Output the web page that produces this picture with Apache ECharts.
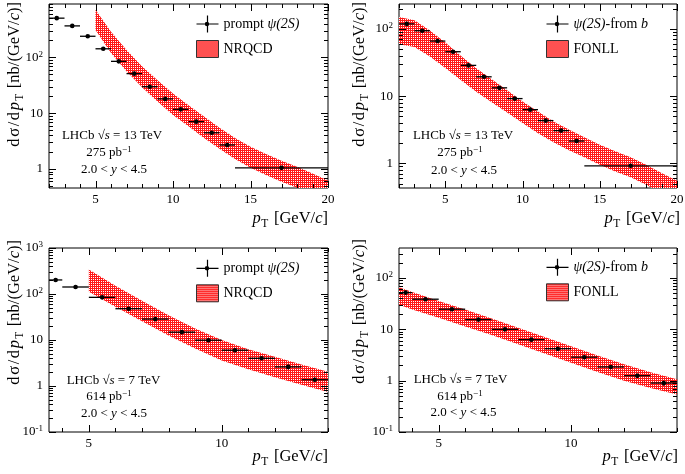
<!DOCTYPE html>
<html><head><meta charset="utf-8">
<script src="https://cdn.jsdelivr.net/npm/echarts@6/dist/echarts.min.js"></script>
<style>html,body{margin:0;padding:0;background:#fff}#c{width:685px;height:474px}</style>
</head><body><div id="c"></div>
<script>
// ---------------- data ----------------
// 13 TeV bins
const bin13Lo  = [2,3,4,5,6,7,8,9,10,11,12,13,14];
const bin13Hi  = [3,4,5,6,7,8,9,10,11,12,13,14,20];
const bin13Mid = [2.5,3.5,4.5,5.5,6.5,7.5,8.5,9.5,10.5,11.5,12.5,13.5,17];
const prompt13    = [502,365,238,142,84.6,51,29.7,18,11.7,7.05,4.45,2.69,1.05];
const prompt13Err = [20,13,8,5,3,1.8,1.1,0.7,0.5,0.35,0.25,0.2,0.08];
const fromB13     = [119,94,66,45.8,28.7,19.4,13.3,9.2,6.3,4.33,3.07,2.15,0.92];
const fromB13Err  = [8,5,3,2,1.2,0.8,0.55,0.4,0.3,0.22,0.17,0.13,0.06];
// NRQCD band 13 TeV
const nrqcd13X  = [5,6,7,8,9,10,11,12,13,14,15,16,17,18,19,20];
const nrqcd13Up = [708,288,135,69,39,22.4,13.8,8.7,5.5,3.6,2.5,1.86,1.41,1.10,0.83,0.62];
const nrqcd13Lo = [309,120,56,29,16.2,9.3,5.8,3.6,2.3,1.51,1.05,0.78,0.59,0.46,0.35,0.26];
// FONLL band 13 TeV
const fonll13X  = [2,3,4,5,6,7,8,9,10,11,12,13,14,15,16,17,18,19,20];
const fonll13Up = [151,135,95,63,40,26,17.8,12.2,8.3,5.9,4.2,3.2,2.45,1.9,1.51,1.23,0.95,0.72,0.55];
const fonll13Lo = [59,54,39,26.3,17.4,11.6,8.1,5.7,4.0,2.8,2.07,1.57,1.23,0.95,0.76,0.62,0.48,0.36,0.275];
// 7 TeV bins
const bin7Lo  = [3.5,4,5,6,7,8,9,10,11,12,13];
const bin7Hi  = [4,5,6,7,8,9,10,11,12,13,14];
const bin7Mid = [3.75,4.5,5.5,6.5,7.5,8.5,9.5,10.5,11.5,12.5,13.5];
const prompt7    = [202,142,84.6,47.9,28.5,14.8,9.9,6.0,4.0,2.6,1.37];
const prompt7Err = [10,6,3.5,2,1.3,0.8,0.6,0.4,0.3,0.3,0.15];
const fromB7     = [52,38.7,24.7,15.5,10.0,6.3,4.2,2.87,1.85,1.25,0.9];
const fromB7Err  = [4,2.5,1.5,0.9,0.6,0.4,0.3,0.2,0.15,0.12,0.1];
// NRQCD band 7 TeV
const nrqcd7X  = [5,6,7,8,9,10,11,12,13,14];
const nrqcd7Up = [339,151,71,34.7,17.8,10,6.3,4.3,2.95,2.04];
const nrqcd7Lo = [112,52.5,25.7,12.6,6.5,3.6,2.3,1.55,1.07,0.74];
// FONLL band 7 TeV
const fonll7X  = [3.5,4,5,6,7,8,9,10,11,12,13,14];
const fonll7Up = [66,53.7,35.9,24.3,16.2,10.7,7.1,4.7,3.1,2.09,1.46,1.07];
const fonll7Lo = [30.2,24.5,16.8,11.4,7.8,5.1,3.4,2.24,1.48,1.0,0.72,0.54];
// tick labels
const xLabels13 = [5,10,15,20];
const xLabels7  = [5,10];

// ---------------- helpers ----------------
const FONT = '"Liberation Serif","DejaVu Serif",serif';
function hatch(){
  const c = document.createElement('canvas'); c.width = 4; c.height = 4;
  const g = c.getContext('2d');
  g.fillStyle = '#ff1818'; g.fillRect(0,0,4,4);
  g.fillStyle = '#ffffff';
  [[1,1],[3,3],[1,3],[3,1]].forEach(q => g.fillRect(q[0], q[1], 1, 1));
  return c;
}
const PATTERN = {image: hatch(), repeat: 'repeat'};
const CROSS = 'path://M0,7.9h22v1.2h-22z M10.4,0h1.2v17h-1.2z M8.3,8.5a2.2,2.2 0 1,1 4.4,0a2.2,2.2 0 1,1 -4.4,0z';

function powLabel(v){
  const l = Math.log10(v), e = Math.round(l);
  if (Math.abs(l - e) > 1e-6) return '';
  if (e === 0) return '1';
  if (e === 1) return '10';
  return '10{s|' + (e < 0 ? '-' : '') + Math.abs(e) + '}';
}

const panels = [
  {grid:{left:49, top:4, width:279, height:184}, xMin:2, xMax:20, xInt:1, xLab:xLabels13, yMin:0.457, yMax:900,
   lo:bin13Lo, hi:bin13Hi, mid:bin13Mid, val:prompt13, err:prompt13Err, ptName:'prompt ψ(2S)',
   bx:nrqcd13X, bu:nrqcd13Up, bl:nrqcd13Lo, bName:'NRQCD'},
  {grid:{left:399, top:4, width:278, height:184}, xMin:2, xMax:20, xInt:1, xLab:xLabels13, yMin:0.43, yMax:235,
   lo:bin13Lo, hi:bin13Hi, mid:bin13Mid, val:fromB13, err:fromB13Err, ptName:'ψ(2S)-from b',
   bx:fonll13X, bu:fonll13Up, bl:fonll13Lo, bName:'FONLL'},
  {grid:{left:49, top:248, width:279, height:184}, xMin:3.5, xMax:14, xInt:0.5, xLab:xLabels7, yMin:0.1, yMax:1000,
   lo:bin7Lo, hi:bin7Hi, mid:bin7Mid, val:prompt7, err:prompt7Err, ptName:'prompt ψ(2S)',
   bx:nrqcd7X, bu:nrqcd7Up, bl:nrqcd7Lo, bName:'NRQCD'},
  {grid:{left:399, top:248, width:278, height:184}, xMin:3.5, xMax:14, xInt:0.5, xLab:xLabels7, yMin:0.1, yMax:385,
   lo:bin7Lo, hi:bin7Hi, mid:bin7Mid, val:fromB7, err:fromB7Err, ptName:'ψ(2S)-from b',
   bx:fonll7X, bu:fonll7Up, bl:fonll7Lo, bName:'FONLL'}
];

function clipPoly(pts, x0, y0, x1, y1){
  const edges = [
    [p => p[0] >= x0, (a, b) => { const t = (x0 - a[0]) / (b[0] - a[0]); return [x0, a[1] + t * (b[1] - a[1])]; }],
    [p => p[0] <= x1, (a, b) => { const t = (x1 - a[0]) / (b[0] - a[0]); return [x1, a[1] + t * (b[1] - a[1])]; }],
    [p => p[1] >= y0, (a, b) => { const t = (y0 - a[1]) / (b[1] - a[1]); return [a[0] + t * (b[0] - a[0]), y0]; }],
    [p => p[1] <= y1, (a, b) => { const t = (y1 - a[1]) / (b[1] - a[1]); return [a[0] + t * (b[0] - a[0]), y1]; }]
  ];
  let out = pts;
  edges.forEach(([inside, inter]) => {
    const inp = out; out = [];
    for (let i = 0; i < inp.length; i++){
      const cur = inp[i], prev = inp[(i + inp.length - 1) % inp.length];
      if (inside(cur)) { if (!inside(prev)) out.push(inter(prev, cur)); out.push(cur); }
      else if (inside(prev)) out.push(inter(prev, cur));
    }
  });
  return out;
}
function bandRender(p){
  return function(params, api){
    const cs = params.coordSys, pts = [];
    p.bx.forEach((x, k) => pts.push(api.coord([x, p.bu[k]])));
    for (let k = p.bx.length - 1; k >= 0; k--) pts.push(api.coord([p.bx[k], p.bl[k]]));
    const cl = clipPoly(pts, cs.x, cs.y, cs.x + cs.width, cs.y + cs.height);
    return {type:'polygon', shape:{points:cl}, style:{fill:PATTERN, stroke:null}};
  };
}
function errRender(params, api){
  const x = api.value(0), y = api.value(1);
  const c = api.coord([x, y]), a = api.coord([api.value(2), y]), b = api.coord([api.value(3), y]);
  const d = api.coord([x, api.value(4)]), e = api.coord([x, api.value(5)]);
  const st = {stroke:'#000', lineWidth:1.3};
  return {type:'group', children:[
    {type:'line', shape:{x1:a[0], y1:c[1], x2:b[0], y2:c[1]}, style:st},
    {type:'line', shape:{x1:c[0], y1:d[1], x2:c[0], y2:e[1]}, style:st},
    {type:'circle', shape:{cx:c[0], cy:c[1], r:2.3}, style:{fill:'#000'}}
  ]};
}
function tickRender(p){
  return function(params, api){
    const cs = params.coordSys, ch = [];
    const L = 7, S = 4;
    const top = cs.y, bot = cs.y + cs.height, left = cs.x, right = cs.x + cs.width;
    const line = (x1,y1,x2,y2) => ch.push({type:'line', shape:{x1,y1,x2,y2}, style:{stroke:'#000', lineWidth:1}});
    for (let v = Math.ceil(p.xMin); v <= p.xMax + 1e-9; v++){
      const px = Math.round(api.coord([v, p.yMin])[0]) + 0.5;
      const len = p.xLab.indexOf(v) >= 0 ? L : S;
      line(px, bot, px, bot - len); line(px, top, px, top + len);
    }
    for (let n = Math.floor(Math.log10(p.yMin)); n <= Math.ceil(Math.log10(p.yMax)); n++){
      for (let k = 1; k <= 9; k++){
        const v = k * Math.pow(10, n);
        if (v < p.yMin || v > p.yMax) continue;
        const py = Math.round(api.coord([p.xMin, v])[1]) + 0.5;
        const len = k === 1 ? L : S;
        line(left, py, left + len, py); line(right, py, right - len, py);
      }
    }
    return {type:'group', children:ch};
  };
}

const grids = [], xAxes = [], yAxes = [], series = [];
panels.forEach((p, i) => {
  grids.push(Object.assign({show:true, borderColor:'#000', borderWidth:1, backgroundColor:'rgba(0,0,0,0)', containLabel:false, outerBoundsMode:'none'}, p.grid));
  xAxes.push({type:'value', gridIndex:i, min:p.xMin, max:p.xMax, interval:p.xInt,
    axisLine:{show:false}, axisTick:{show:false}, splitLine:{show:false},
    axisLabel:{margin:5, color:'#000', fontFamily:FONT, fontSize:13,
      formatter: v => p.xLab.some(t => Math.abs(t - v) < 1e-9) ? String(Math.round(v)) : ''}});
  yAxes.push({type:'log', logBase:10, gridIndex:i, min:p.yMin, max:p.yMax,
    axisLine:{show:false}, axisTick:{show:false}, splitLine:{show:false}, minorTick:{show:false},
    axisLabel:{margin:6, color:'#000', fontFamily:FONT, fontSize:13, formatter: powLabel,
      rich:{s:{fontSize:9, fontFamily:FONT, color:'#000', verticalAlign:'top', padding:[0,0,6,0]}}}});
  series.push({type:'custom', name:p.bName, xAxisIndex:i, yAxisIndex:i, silent:true, z:2,
    itemStyle:{color:'#ff1818'},
    data:[[p.bx[0], p.bl[0]]], encode:{x:0, y:1}, renderItem:bandRender(p)});
  series.push({type:'custom', name:p.ptName, xAxisIndex:i, yAxisIndex:i, silent:true, z:5,
    itemStyle:{color:'#000'},
    data:p.mid.map((m, k) => [m, p.val[k], p.lo[k], p.hi[k], p.val[k] - p.err[k], p.val[k] + p.err[k]]),
    encode:{x:0, y:1}, renderItem:errRender});
  series.push({type:'custom', name:'_ticks' + i, xAxisIndex:i, yAxisIndex:i, silent:true, z:6,
    data:[[p.xMin, p.yMin]], encode:{x:0, y:1}, renderItem:tickRender(p)});
});

const legendFmt = {
  'prompt ψ(2S)':'{n|prompt }{i|ψ(2S)}',
  'ψ(2S)-from b':'{i|ψ(2S)}{n|-from }{i|b}',
  'NRQCD':'{n|NRQCD}', 'FONLL':'{n|FONLL}'
};
const legRich = {n:{fontFamily:FONT, fontSize:14, color:'#000'}, i:{fontFamily:FONT, fontSize:14, fontStyle:'italic', color:'#000'}};
function mkLegend(left, top, p){
  return {left:left, top:top, orient:'vertical', padding:0, itemWidth:22, itemHeight:17, itemGap:7.5,
    selectedMode:false, formatter: n => legendFmt[n],
    textStyle:{fontFamily:FONT, fontSize:14, color:'#000', rich:legRich},
    data:[{name:p.ptName, icon:CROSS, itemStyle:{color:'#000'}},
          {name:p.bName, icon:'rect', itemStyle:{color:PATTERN, borderColor:'#333', borderWidth:1}}]};
}

const tRich = {
  n:{fontFamily:FONT, fontSize:13, fill:'#000'},
  i:{fontFamily:FONT, fontSize:13, fontStyle:'italic', fill:'#000'},
  s:{fontFamily:FONT, fontSize:9, fill:'#000', verticalAlign:'top', padding:[0,0,6,0]}
};
function txt(x, y, t){
  return {type:'text', x:x, y:y, silent:true, style:{text:t, rich:tRich, align:'center', verticalAlign:'middle', textAlign:'center', textVerticalAlign:'middle'}};
}
const aRich = {
  n:{fontFamily:FONT, fontSize:16.5, fill:'#000'},
  w:{fontFamily:FONT, fontSize:16.5, fill:'#000', padding:[0,0.8,0,0.8]},
  i:{fontFamily:FONT, fontSize:16.5, fontStyle:'italic', fill:'#000'},
  iw:{fontFamily:FONT, fontSize:16.5, fontStyle:'italic', fill:'#000', padding:[0,0.8,0,0.8]},
  sub:{fontFamily:FONT, fontSize:11.5, fill:'#000', verticalAlign:'bottom', padding:[9,1.5,0,0.5]}
};
const yTitle = '{w|d}{w|σ}{w|/}{w|d}{iw|p}{sub|T}{n| [nb/(GeV/}{i|c}{n|)]}';
const xTitle = '{i|p}{sub|T}{n| [GeV/}{i|c}{n|]}';
function yT(x, y){ return {type:'text', x:x, y:y, rotation:Math.PI/2, silent:true,
  style:{text:yTitle, rich:aRich, align:'right', verticalAlign:'middle', textAlign:'right', textVerticalAlign:'middle'}}; }
function xT(x, y){ return {type:'text', x:x, y:y, silent:true,
  style:{text:xTitle, rich:aRich, align:'right', verticalAlign:'middle', textAlign:'right', textVerticalAlign:'middle'}}; }

const graphics = [
  yT(15, 2), yT(360, 2), yT(15, 240), yT(360, 239),
  xT(328, 219), xT(680, 219), xT(328, 457), xT(678, 457),
  txt(112, 136, '{n|LHCb √}{i|s}{n| = 13 TeV}'), txt(109, 153, '{n|275 pb}{s|−1}'), txt(114, 170, '{n|2.0 < }{i|y}{n| < 4.5}'),
  txt(463, 136, '{n|LHCb √}{i|s}{n| = 13 TeV}'), txt(460, 153, '{n|275 pb}{s|−1}'), txt(464, 170.5, '{n|2.0 < }{i|y}{n| < 4.5}'),
  txt(113.5, 380.5, '{n|LHCb √}{i|s}{n| = 7 TeV}'), txt(109, 397, '{n|614 pb}{s|−1}'), txt(114, 414, '{n|2.0 < }{i|y}{n| < 4.5}'),
  txt(460.5, 380, '{n|LHCb √}{i|s}{n| = 7 TeV}'), txt(460, 396.7, '{n|614 pb}{s|−1}'), txt(463.5, 413, '{n|2.0 < }{i|y}{n| < 4.5}')
];

const chart = echarts.init(document.getElementById('c'), null, {renderer:'canvas'});
chart.setOption({
  animation:false,
  backgroundColor:'#fff',
  textStyle:{fontFamily:FONT},
  grid:grids, xAxis:xAxes, yAxis:yAxes, series:series,
  legend:[mkLegend(196, 15.5, panels[0]), mkLegend(546, 15.5, panels[1]), mkLegend(196, 259.8, panels[2]), mkLegend(546, 258.8, panels[3])],
  graphic:graphics
});
</script></body></html>
